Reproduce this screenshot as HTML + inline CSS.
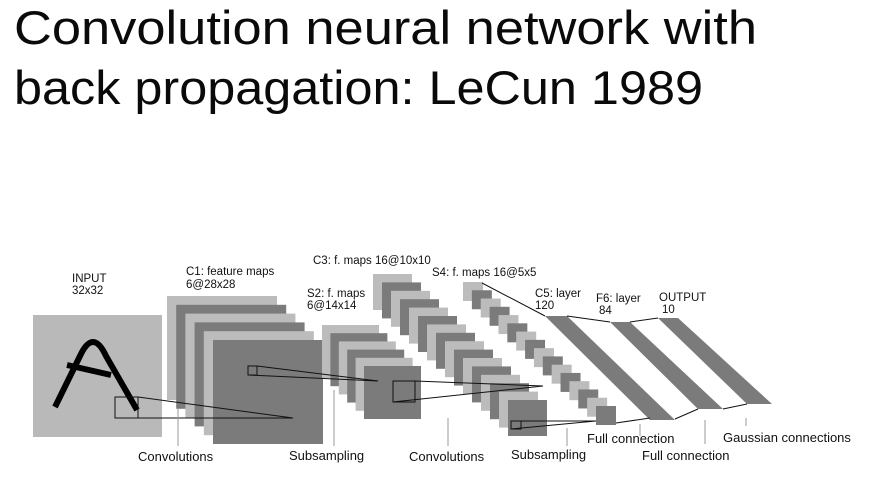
<!DOCTYPE html>
<html><head><meta charset="utf-8"><style>
html,body{margin:0;padding:0;background:#fff;}
svg{display:block;}
text{font-family:"Liberation Sans",sans-serif;fill:#111;}
.t{font-size:47px;fill:#0a0a0a;}
.s{font-size:11.5px;}
.b{font-size:13px;}
</style></head><body>
<svg id="c" width="872" height="486" viewBox="0 0 872 486" xmlns="http://www.w3.org/2000/svg">
<rect width="872" height="486" fill="#fff"/>
<text class="t" x="14" y="44" textLength="743" lengthAdjust="spacingAndGlyphs">Convolution neural network with</text>
<text class="t" x="14" y="104" textLength="689" lengthAdjust="spacingAndGlyphs">back propagation: LeCun 1989</text>

<rect x="33" y="315" width="129" height="122" fill="#b9b9b9"/>
<g stroke="#000" stroke-width="6" fill="none" stroke-linecap="butt" stroke-linejoin="round">
<path d="M55,407 L80,356 Q93,328 106,356 L137,410"/>
<path d="M67,365 L111,375"/>
</g>
<g id="stacks"></g>
<g id="links" stroke="#111" stroke-width="1" fill="none"></g>

<text class="s" x="72" y="282">INPUT</text>
<text class="s" x="72" y="294">32x32</text>
<text class="s" x="186" y="275">C1: feature maps</text>
<text class="s" x="186" y="288">6@28x28</text>
<text class="s" x="307" y="297">S2: f. maps</text>
<text class="s" x="307" y="309">6@14x14</text>
<text class="s" x="313" y="264">C3: f. maps 16@10x10</text>
<text class="s" x="432" y="276">S4: f. maps 16@5x5</text>
<text class="s" x="535" y="297">C5: layer</text>
<text class="s" x="535" y="309">120</text>
<text class="s" x="596" y="302">F6: layer</text>
<text class="s" x="599" y="314">84</text>
<text class="s" x="659" y="301">OUTPUT</text>
<text class="s" x="662" y="313">10</text>

<g stroke="#999" stroke-width="1">
<line x1="178" y1="408" x2="178" y2="446"/><line x1="334" y1="390" x2="334" y2="446"/>
<line x1="448" y1="418" x2="448" y2="446"/><line x1="567" y1="428" x2="567" y2="446"/>
<line x1="640" y1="424" x2="640" y2="436"/><line x1="705" y1="420" x2="705" y2="444"/>
<line x1="746" y1="418" x2="746" y2="426"/>
</g>
<text class="b" x="138" y="461">Convolutions</text>
<text class="b" x="289" y="460">Subsampling</text>
<text class="b" x="409" y="461">Convolutions</text>
<text class="b" x="511" y="459">Subsampling</text>
<text class="b" x="587" y="443">Full connection</text>
<text class="b" x="642" y="460">Full connection</text>
<text class="b" x="723" y="442">Gaussian connections</text>
</svg>
<script>
var ns="http://www.w3.org/2000/svg";
var layerNames=["c1","s2","c3","s4"];
var mapCounts=[6,6,16,16];
var firstX=[167,322,373,463], firstY=[296,325,274,282];
var lastX=[213,364,508,596], lastY=[340,366,400,406];
var mapW=[110,57,39,20], mapH=[104,53,36,19];
var g=document.getElementById('stacks');
for(var L=0;L<layerNames.length;L++){
  var n=mapCounts[L];
  for(var i=0;i<n;i++){
    var t=n>1?i/(n-1):0;
    var r=document.createElementNS(ns,'rect');
    r.setAttribute('x',firstX[L]+(lastX[L]-firstX[L])*t);
    r.setAttribute('y',firstY[L]+(lastY[L]-firstY[L])*t);
    r.setAttribute('width',mapW[L]);r.setAttribute('height',mapH[L]);
    r.setAttribute('fill',i%2==0?'#bcbcbc':'#7b7b7b');
    
    
    g.appendChild(r);
  }
}
var bands=[[545,567,316,650,675,420],[610,630,322,698,723,409],[658,678,318,747,772,404]];
var bandNames=['c5-layer','f6-layer','output-layer'];
for(var b=0;b<bands.length;b++){
  var q=bands[b];
  var p=document.createElementNS(ns,'polygon');
  p.setAttribute('points',q[0]+','+q[2]+' '+q[1]+','+q[2]+' '+q[4]+','+q[5]+' '+q[3]+','+q[5]);
  p.setAttribute('fill','#7b7b7b');
  
  
  g.appendChild(p);
}
var lk=document.getElementById('links');
var squares=[[115,397,23,21,293,418],[248,366,9,9,378,381],[393,381,22,21,543,386],[511,421,10,8,596,421]];
for(var s=0;s<squares.length;s++){
  var a=squares[s];
  var r=document.createElementNS(ns,'rect');
  r.setAttribute('x',a[0]);r.setAttribute('y',a[1]);r.setAttribute('width',a[2]);r.setAttribute('height',a[3]);
  
  
  lk.appendChild(r);
  var l1=document.createElementNS(ns,'line');
  l1.setAttribute('x1',a[0]+a[2]);l1.setAttribute('y1',a[1]);l1.setAttribute('x2',a[4]);l1.setAttribute('y2',a[5]);
  
  
  lk.appendChild(l1);
  var l2=document.createElementNS(ns,'line');
  l2.setAttribute('x1',a[0]);l2.setAttribute('y1',a[1]+a[3]);l2.setAttribute('x2',a[4]);l2.setAttribute('y2',a[5]);
  
  
  lk.appendChild(l2);
}
var conns=[[482,283,545,316],[567,316,610,322],[630,322,658,318],[616,423,650,418],[675,419,698,409],[723,409,747,404]];
for(var c=0;c<conns.length;c++){
  var k=conns[c];
  var ln=document.createElementNS(ns,'line');
  ln.setAttribute('x1',k[0]);ln.setAttribute('y1',k[1]);ln.setAttribute('x2',k[2]);ln.setAttribute('y2',k[3]);
  
  
  lk.appendChild(ln);
}
</script>
</body></html>
